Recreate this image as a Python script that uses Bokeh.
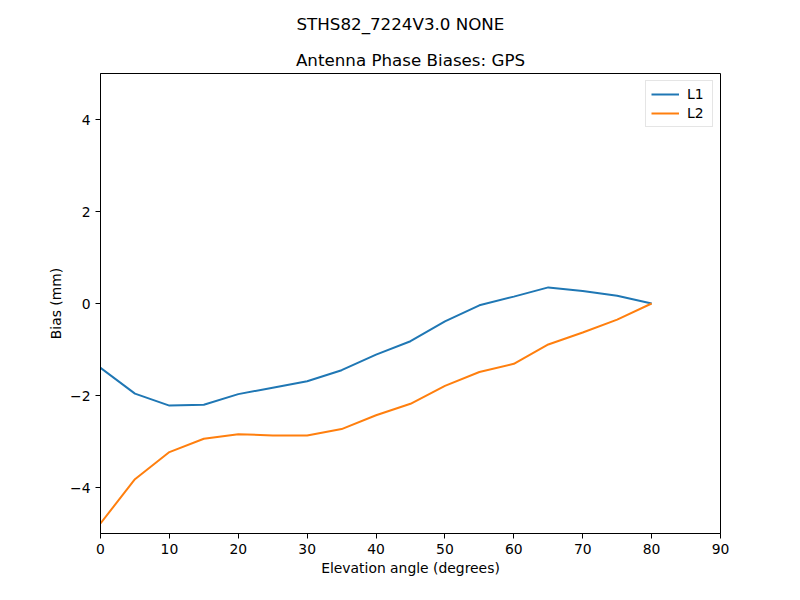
from bokeh.plotting import figure
from bokeh.models import Title, Legend, LegendItem, FixedTicker
from bokeh.embed import file_html
from bokeh.resources import INLINE

elevation = [0, 5, 10, 15, 20, 25, 30, 35, 40, 45, 50, 55, 60, 65, 70, 75, 80]
l1_bias = [-1.40, -1.96, -2.22, -2.20, -1.97, -1.83, -1.69, -1.45, -1.11, -0.82,
           -0.39, -0.04, 0.15, 0.35, 0.27, 0.17, 0.0]
l2_bias = [-4.78, -3.82, -3.23, -2.94, -2.84, -2.87, -2.87, -2.73, -2.43, -2.18,
           -1.79, -1.49, -1.31, -0.89, -0.63, -0.35, 0.0]
x_ticks = [0, 10, 20, 30, 40, 50, 60, 70, 80, 90]
y_ticks = [-4, -2, 0, 2, 4]

FONT = "DejaVu Sans"

p = figure(width=784, height=584, x_range=(0, 90), y_range=(-5, 5),
           output_backend="svg", toolbar_location=None,
           min_border_left=100, min_border_right=64, min_border_bottom=51, min_border_top=0)

p.add_layout(Title(text="Antenna Phase Biases: GPS", align="center", text_font=FONT,
                   text_font_size="16.7px", text_font_style="normal", text_color="black",
                   standoff=7), "above")
p.add_layout(Title(text="STHS82_7224V3.0 NONE", align="left", text_font=FONT,
                   text_font_size="16.7px", text_font_style="normal", text_color="black",
                   standoff=22, offset=196), "above")

r1 = p.line(elevation, l1_bias, line_color="#1f77b4", line_width=2)
r2 = p.line(elevation, l2_bias, line_color="#ff7f0e", line_width=2)

p.xgrid.visible = False
p.ygrid.visible = False
p.outline_line_color = "black"
p.outline_line_width = 1
p.outline_line_alpha = 1

p.xaxis.ticker = FixedTicker(ticks=x_ticks)
p.yaxis.ticker = FixedTicker(ticks=y_ticks)
for ax in (p.xaxis[0], p.yaxis[0]):
    ax.axis_line_color = "black"
    ax.major_tick_line_color = "black"
    ax.major_tick_out = 5
    ax.major_tick_in = 0
    ax.minor_tick_line_color = None
    ax.major_label_text_font = FONT
    ax.major_label_text_font_size = "13.9px"
    ax.major_label_text_color = "black"
    ax.axis_label_text_font = FONT
    ax.axis_label_text_font_size = "13.9px"
    ax.axis_label_text_font_style = "normal"
    ax.axis_label_text_color = "black"
p.xaxis.axis_label = "Elevation angle (degrees)"
p.yaxis.axis_label = "Bias (mm)"
p.xaxis.axis_label_standoff = 3
p.yaxis.axis_label_standoff = 3
p.xaxis.major_label_standoff = 5
p.yaxis.major_label_standoff = 5

legend = Legend(items=[LegendItem(label="L1", renderers=[r1]),
                       LegendItem(label="L2", renderers=[r2])],
                location="top_right", label_text_font=FONT, label_text_font_size="13.9px",
                label_text_color="black",
                glyph_width=28, glyph_height=14, label_standoff=8, spacing=3,
                padding=5, margin=7, border_line_color="#cccccc", border_line_width=1,
                background_fill_alpha=0.8)
p.add_layout(legend)

open("out.html", "w").write(file_html(p, INLINE))
